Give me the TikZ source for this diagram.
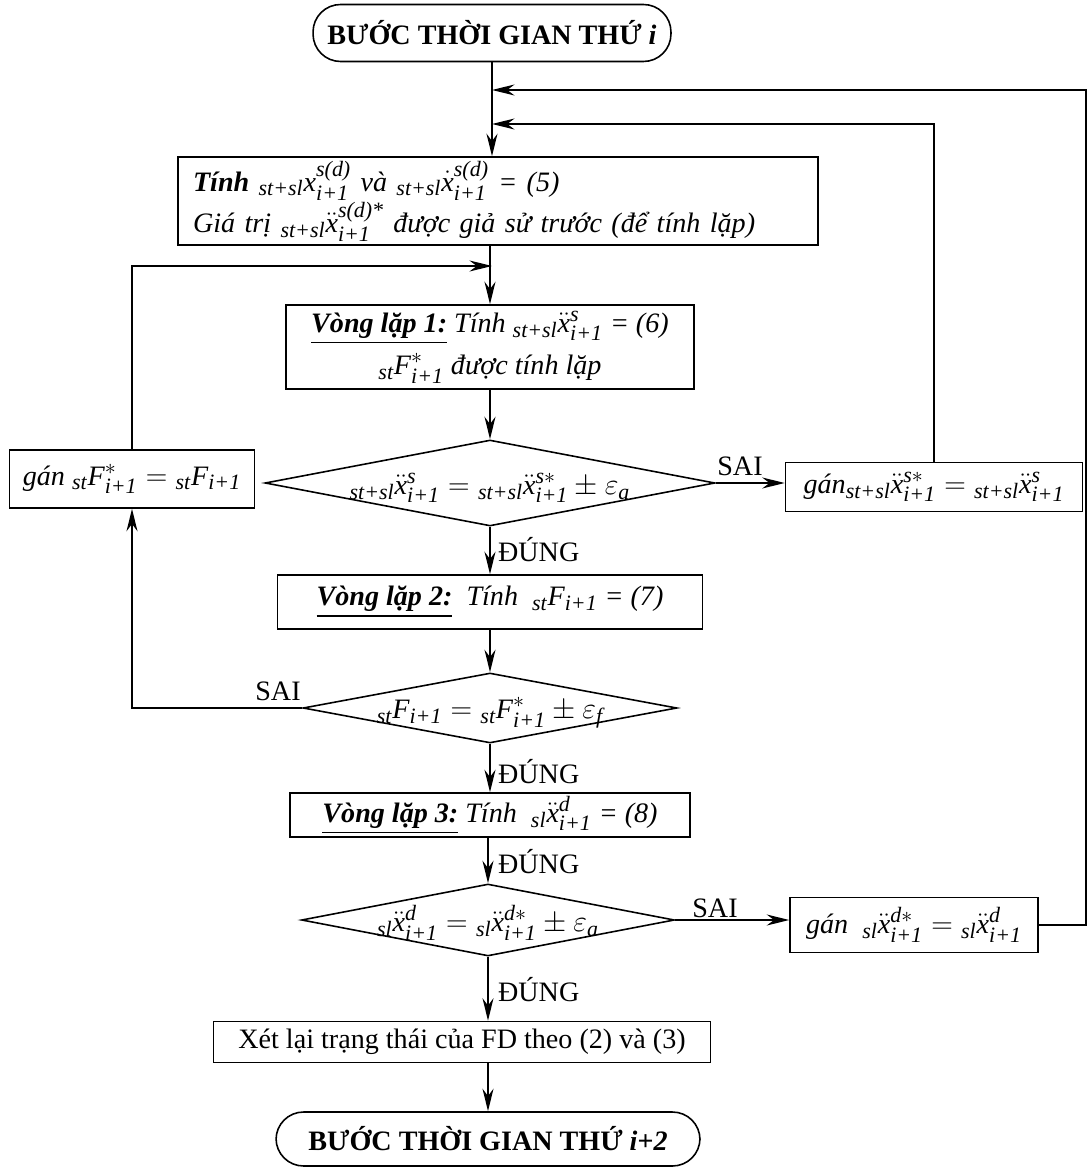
\RequirePackage{fix-cm}
\documentclass[tikz,border=0pt]{standalone}
\usepackage{amsmath}
\usepackage{fontspec}
\setmainfont{Liberation Serif}
\usetikzlibrary{shapes.geometric,arrows.meta}
\DeclareMathSizes{16}{17}{12.5}{9}
\newcommand\pre[1]{{}_{\textit{#1}}}
\newcommand\xdd{\ddot{\textit{x}}}
\newcommand\xd{\dot{\textit{x}}}
\newcommand\lo[1]{_{\textit{#1}}}
\newcommand\hi[1]{^{\textit{#1}}}
\tikzset{
  base/.style={font=\fontsize{16}{19}\selectfont},
  box/.style={draw, line width=0.9pt, inner sep=0pt, base},
  term/.style={box, rounded corners=0.55cm},
  dia/.style={draw, diamond, line width=0.9pt, inner sep=0pt},
  lbl/.style={base, inner sep=1pt},
  arr/.style={line width=0.9pt, -{Stealth[length=4.5mm,width=2.2mm]}},
  ln/.style={line width=0.9pt}
}
\begin{document}
\begin{tikzpicture}[x=0.02cm,y=-0.02cm]
\fill[white] (0,0) rectangle (1091,1168);
\useasboundingbox (0,0) rectangle (1091,1168);

% nodes
\node[term, minimum width=7.16cm, minimum height=1.14cm] (start) at (492,33)
  {\textbf{BƯỚC THỜI GIAN THỨ \textit{i}}};
\node[box, minimum width=12.8cm, minimum height=1.76cm, text width=12.2cm, align=left] (box1) at (498,201)
  {\textbf{\textit{Tính}} $\pre{st+sl}\textit{x}\hi{s(d)}\lo{i+1}$ \textit{và} $\pre{st+sl}\xd\hi{s(d)}\lo{i+1}$ \textit{= (5)}\\
   \textit{Giá trị} $\pre{st+sl}\xdd\hi{s(d)*}\lo{i+1}$ \textit{được giả sử trước (để tính lặp)}};
\node[box, minimum width=8.16cm, minimum height=1.68cm, align=center] (box2) at (490,347)
  {\underline{\textbf{\textit{Vòng lặp 1:}}} \textit{Tính} $\pre{st+sl}\xdd\hi{s}\lo{i+1}$ \textit{= (6)}\\[5pt]
   $\pre{st}\textit{F}^{*}\lo{i+1}$ \textit{được tính lặp}};
\node[dia, minimum width=9.0cm, minimum height=1.72cm] (d1) at (490,483) {};
\node[base, inner sep=0pt] (d1t) at (490,488)
  {$\pre{st+sl}\xdd\hi{s}\lo{i+1} = \pre{st+sl}\xdd^{\textit{s}*}\lo{i+1} \pm \varepsilon\lo{a}$};
\node[box, minimum width=4.9cm, minimum height=1.16cm] (gL) at (132,479)
  {\textit{gán} $\pre{st}\textit{F}^{*}\lo{i+1} = \pre{st}\textit{F}\lo{i+1}$};
\node[box, minimum width=5.94cm, minimum height=0.98cm] (gR) at (934,487)
  {\textit{gán}$\pre{st+sl}\xdd^{\textit{s}*}\lo{i+1} = \pre{st+sl}\xdd\hi{s}\lo{i+1}$};
\node[box, minimum width=8.5cm, minimum height=1.08cm] (box3) at (490,602)
  {\underline{\textbf{\textit{Vòng lặp 2:}}}\ \ \textit{Tính}\ \ $\pre{st}\textit{F}\lo{i+1}$ \textit{= (7)}};
\node[dia, minimum width=7.48cm, minimum height=1.4cm] (d2) at (490,708) {};
\node[base, inner sep=0pt] (d2t) at (490,713)
  {$\pre{st}\textit{F}\lo{i+1} = \pre{st}\textit{F}^{*}\lo{i+1} \pm \varepsilon\lo{f}$};
\node[box, minimum width=8.0cm, minimum height=0.88cm] (box4) at (490,815)
  {\underline{\textbf{\textit{Vòng lặp 3:}}} \textit{Tính}\ \ $\pre{sl}\xdd\hi{d}\lo{i+1}$ \textit{= (8)}};
\node[dia, minimum width=7.46cm, minimum height=1.44cm] (d3) at (488,920) {};
\node[base, inner sep=0pt] (d3t) at (488,923)
  {$\pre{sl}\xdd\hi{d}\lo{i+1} = \pre{sl}\xdd^{\textit{d}*}\lo{i+1} \pm \varepsilon\lo{a}$};
\node[box, minimum width=4.96cm, minimum height=1.1cm] (gR2) at (914,925)
  {\textit{gán}\ \ $\pre{sl}\xdd^{\textit{d}*}\lo{i+1} = \pre{sl}\xdd\hi{d}\lo{i+1}$};
\node[box, minimum width=9.94cm, minimum height=0.82cm] (box6) at (462,1042)
  {Xét lại trạng thái của FD theo (2) và (3)};
\node[term, minimum width=8.48cm, minimum height=1.08cm] (end) at (488,1139)
  {\textbf{BƯỚC THỜI GIAN THỨ \textit{i+2}}};

% junction coordinates on the main line
\coordinate (j1) at (492,90);
\coordinate (j2) at (492,124);
\coordinate (j3) at (492,266);
\coordinate (rc) at (1086,90);

% main flow
\draw[arr] (start.south) -- (start.south |- box1.north);
\draw[arr] (box1.south -| box2.north) -- (box2.north);
\draw[arr] (box2.south) -- (d1.north);
\draw[arr] (d1.south) -- (box3.north);
\draw[arr] (box3.south) -- (d2.north);
\draw[arr] (d2.south) -- (box4.north);
\draw[arr] (box4.south -| d3.north) -- (d3.north);
\draw[arr] (d3.south) -- (d3.south |- box6.north);
\draw[arr] (box6.south -| end.north) -- (end.north);

% branches
\draw[arr] (d1.east) -- (d1.east -| gR.west);
\draw[arr] (gR.north) |- (j2);
\draw[arr] (d2.west) -| (gL.south);
\draw[arr] (gL.north) |- (j3);
\draw[arr] (d3.east) -- (d3.east -| gR2.west);
\draw[arr] (gR2.east) -| (rc) -- (j1);

% labels
\node[lbl] (s1) at (740,466) {SAI};
\node[lbl, anchor=west] (t1) at (496,550) {ĐÚNG};
\node[lbl] (s2) at (278,691) {SAI};
\node[lbl, anchor=west] (t2) at (496,772) {ĐÚNG};
\node[lbl, anchor=west] (t3) at (496,862) {ĐÚNG};
\node[lbl] (s3) at (715,908) {SAI};
\node[lbl, anchor=west] (t4) at (496,990) {ĐÚNG};
\end{tikzpicture}
\end{document}
